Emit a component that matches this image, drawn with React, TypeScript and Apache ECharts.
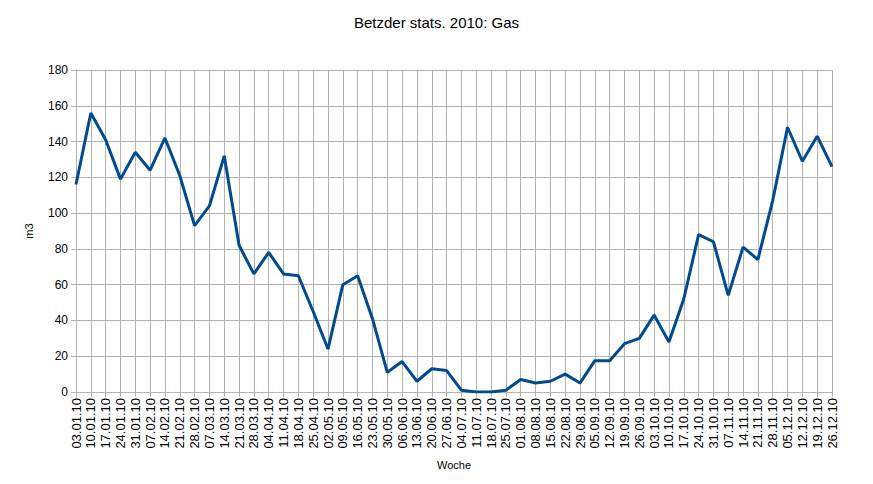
import React, { useEffect, useRef } from "react";
import * as echarts from "echarts";

const weeks = [
  "03.01.10", "10.01.10", "17.01.10", "24.01.10", "31.01.10", "07.02.10", "14.02.10", "21.02.10",
  "28.02.10", "07.03.10", "14.03.10", "21.03.10", "28.03.10", "04.04.10", "11.04.10", "18.04.10",
  "25.04.10", "02.05.10", "09.05.10", "16.05.10", "23.05.10", "30.05.10", "06.06.10", "13.06.10",
  "20.06.10", "27.06.10", "04.07.10", "11.07.10", "18.07.10", "25.07.10", "01.08.10", "08.08.10",
  "15.08.10", "22.08.10", "29.08.10", "05.09.10", "12.09.10", "19.09.10", "26.09.10", "03.10.10",
  "10.10.10", "17.10.10", "24.10.10", "31.10.10", "07.11.10", "14.11.10", "21.11.10", "28.11.10",
  "05.12.10", "12.12.10", "19.12.10", "26.12.10",
];

const gas = [
  116, 156, 141, 119, 134, 124, 142, 121,
  93, 104, 132, 82, 66, 78, 66, 65,
  45, 24, 60, 65, 41, 11, 17, 6,
  13, 12, 1, 0, 0, 1, 7, 5,
  6, 10, 5, 17.5, 17.5, 27, 30, 43,
  28, 52, 88, 84, 54, 81, 74, 107,
  148, 129, 143, 126,
];

const yTicks = { min: 0, max: 180, interval: 20 };

export default function App() {
  const ref = useRef<HTMLDivElement>(null);
  useEffect(() => {
    if (!ref.current) return;
    const chart = echarts.init(ref.current, undefined, { renderer: "svg" });
    const font = "'Liberation Sans', Arial, sans-serif";
    const grid = "#b3b3b3";
    chart.setOption({
      animation: false,
      backgroundColor: "#ffffff",
      textStyle: { fontFamily: font },
      title: {
        text: "Betzder stats. 2010: Gas",
        left: "center",
        top: 10,
        textStyle: { fontFamily: font, fontSize: 15, fontWeight: "normal", color: "#000" },
      },
      grid: { left: 76, right: 41, top: 70, bottom: 92, containLabel: false },
      xAxis: {
        type: "category",
        data: weeks,
        boundaryGap: false,
        name: "Woche",
        nameLocation: "middle",
        nameGap: 67,
        nameTextStyle: { fontFamily: font, fontSize: 11, color: "#000" },
        axisLine: { show: true, lineStyle: { color: grid, width: 1 } },
        axisTick: { show: true, interval: 0, length: 5, lineStyle: { color: grid } },
        axisLabel: {
          interval: 0,
          rotate: 90,
          fontFamily: font,
          fontSize: 13,
          color: "#000",
          margin: 6,
        },
        splitLine: { show: true, interval: 0, lineStyle: { color: grid, width: 1 } },
      },
      yAxis: {
        type: "value",
        min: yTicks.min,
        max: yTicks.max,
        interval: yTicks.interval,
        name: "m3",
        nameLocation: "middle",
        nameGap: 42,
        nameRotate: 90,
        nameTextStyle: { fontFamily: font, fontSize: 11, color: "#000" },
        axisLine: { show: true, lineStyle: { color: grid, width: 1 } },
        axisTick: { show: true, length: 5, lineStyle: { color: grid } },
        axisLabel: { fontFamily: font, fontSize: 12, color: "#000", margin: 8 },
        splitLine: { show: true, lineStyle: { color: grid, width: 1 } },
      },
      series: [
        {
          type: "line",
          data: gas,
          showSymbol: false,
          symbol: "none",
          lineStyle: { color: "#004a8f", width: 3 },
          itemStyle: { color: "#004a8f" },
        },
      ],
    });
    return () => chart.dispose();
  }, []);
  return <div ref={ref} style={{ width: 873, height: 484, position: "absolute", left: 0, top: 0 }} />;
}
